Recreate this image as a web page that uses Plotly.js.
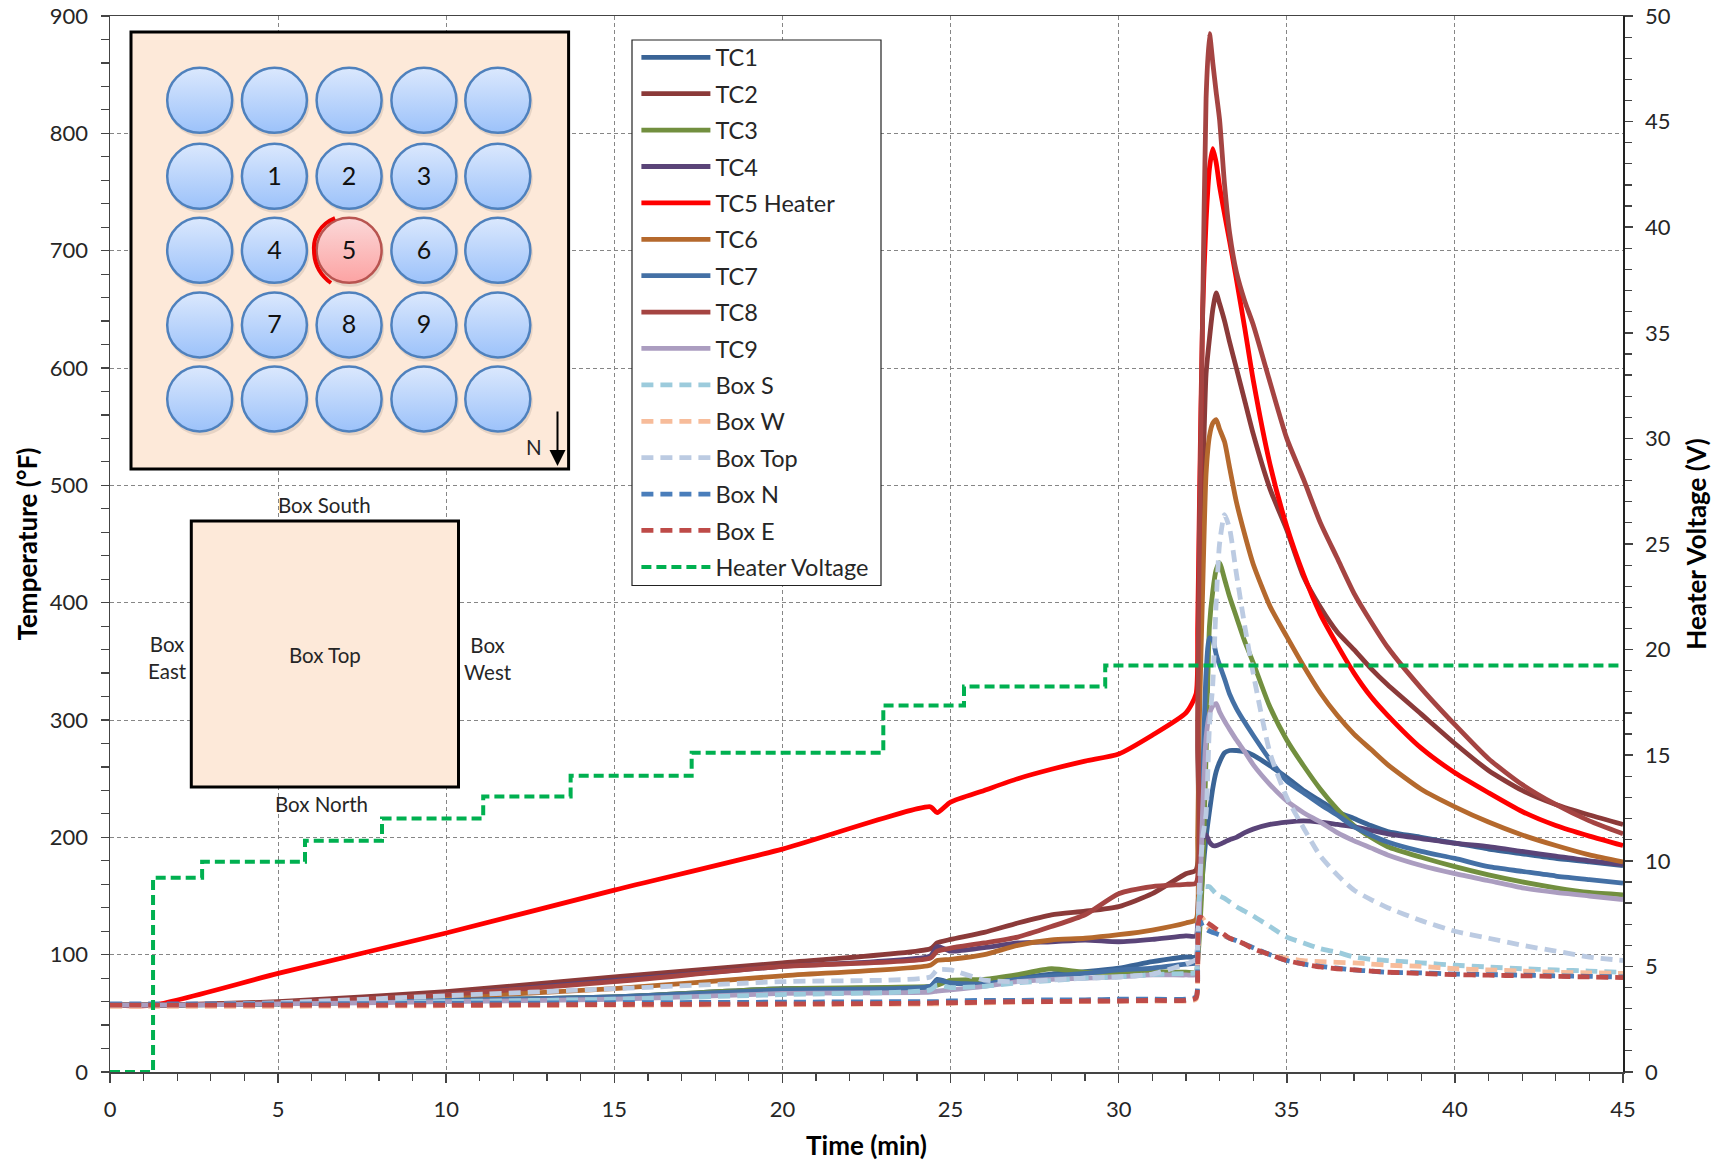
<!DOCTYPE html>
<html>
<head>
<meta charset="utf-8">
<script src="https://cdn.plot.ly/plotly-3.0.1.min.js"></script>
<style>html,body{margin:0;padding:0;background:#fff}#chart{width:1726px;height:1162px}</style>
</head>
<body>
<div id="chart"></div>
<script>
// Shared time base (min)
const time = [0,1.3,5,10,15,20, 24.4,24.6,25,26,27, 28,29,30,31,32, 32.3,32.35,32.4,32.5,32.6, 32.7,32.8,32.9,33,33.15, 33.3,33.5,33.75,34,34.5, 35,35.5,36,36.5,37, 37.5,38,39,40,41, 42,43,44,45];
// Temperatures (deg F)
const TC1 = [57,57,58,61,64,71, 73,79,76,75.5,80, 83.5,85.5,88.5,94,98, 98,110,130,170,200, 222,242,256,264,272, 274,274,273,270,261, 251,240,231,222,216, 210,205,200,195,190, 186,182,179,176];
const TC2 = [57,57,60,68.5,81,93, 105,110,113,119,127, 134,137,141,152,169, 172,280,400,500,595, 625,650,664,655,640, 622,600,572,544,497, 462,422,396,375,360, 344,330,305,280,257, 240,228,219,211];
const TC3 = [57,57,58,61,64,71, 73,74,78,79,83, 88,85,85,85.5,85, 85,95,115,170,270, 380,410,428,434,420, 405,388,367,349,311, 283,261,241,224,210, 200,192,183,175,168, 162,157,153,151];
const TC4 = [57,57,59,66,78,90, 99,107,103,106,110, 111,112.5,111,113,116, 116,135,165,200,202, 196,193,193,194,196, 198,200,204,207,211, 213,214,213,211,209, 206,203,199,195,192, 188,184,180,177];
const TC5 = [57,57,84,118.5,155,190, 226,221,230,240,250, 258,265,271,287,306, 322,380,480,650,725, 770,787,775,755,731, 708,676,634,590,518, 465,424,390,364,340, 320,304,276,255,238, 222,210,201,193];
const TC6 = [57,57,59,64,71,82, 91,95,96,100,108, 112.5,114,117,121,127, 130,200,300,413,510, 542,553,556,548,537, 515,486,458,433,397, 371,346,323,304,288, 275,262,241,226,213, 202,193,185,179];
const TC7 = [57,57,58,61,64,70, 73,78,76,75,79, 82,84,87,88.5,92, 93,105,140,250,340, 370,368,356,347,335, 322,310,298,287,266, 248,238,228,219,209, 202,196,188,182,175, 171,167,164,161];
const TC8 = [57,57,59,66,77,90, 97,103,105.6,110,115, 124,134,152,158,160, 161,300,460,650,830, 885,860,835,812,756, 715,682,657,637,588, 540,505,468,438,408, 384,362,327,296,267, 245,228,214,203];
const TC9 = [57,57,58,60,62,67, 68,69,70,73,77, 79,80,81,82.7,82.7, 83,100,135,225,285, 305,312,314,307,299, 292,283,273,262,245, 231,221,213,204,197, 191,185,176,169,163, 157,153,150,147];
const BoxS = [57,57,58,60,62,66, 70,74,72,73,76, 78,80,81,83,84, 85,110,150,158,158, 158,155,152,150,148, 145,141,137,133,124, 115,110,105,102,98, 96,95,93,91,89.5, 88,87,86,85];
const BoxW = [56,56,56,56.5,57,57.5, 58,58,58.5,59,59.5, 60,60,60.5,60.5,60.5, 62,90,125,131,126, 122,120,119,118,116, 114,112,109,106,100, 97,95,94,93.5,93, 92,91,90,88,87, 86,85,84.5,84];
const BoxTop = [57,57,59,65,71,77, 81,87,87,78.4,77, 78.4,80,81,83.5,92, 96,115,160,200,220, 295,331,400,450,475, 463,425,380,340,272, 234,208,184,168,155, 147,140,129,120,114, 108,103,98,95];
const BoxN = [58,58,58,58.5,59,59.5, 60,60,60.5,61,61, 61.5,61.5,62,62,62, 64,95,130,124,122, 120,119,118,117,116, 114,112,109,106,100, 95,92,90,88.5,87, 86,85,84.5,83.5,83, 82.5,82,81.5,81];
const BoxE = [57,57,57,57,57.5,58, 58.7,59,59,59.5,60, 60,60.5,60.5,61,61, 63,90,132,131,128, 126,124,122,120,117, 114,112,109,105,100, 95,92,89.5,88,87, 86,85,84,83,82.5, 82,81.5,81,80.5];
// Heater voltage steps (V)
const voltTime = [0,1.28,2.74,5.8,8.09,11.1,13.7,17.3,23.0,25.4,29.6,45];
const voltage = [0,9.2,9.95,10.95,12,13.05,14.03,15.12,17.35,18.25,19.25,19.25];

const W = 1726, H = 1162;
const FONT = 'Lato, "Open Sans", sans-serif';
const TXT = '#262626';

const solid = (name, y, color) => ({name, x: time, y, mode:'lines', legendgroup:name,
  line:{color, width:4.8, shape:'spline', smoothing:0.6}, hoverinfo:'skip'});
const dashed = (name, y, color) => ({name, x: time, y, mode:'lines', legendgroup:name,
  line:{color, width:4.8, shape:'spline', smoothing:0.6, dash:'12px,7px'}, hoverinfo:'skip'});

const traces = [
  solid('TC1', TC1, '#3a6496'),
  solid('TC2', TC2, '#8b3a39'),
  solid('TC3', TC3, '#728f3f'),
  solid('TC4', TC4, '#5a4478'),
  solid('TC5 Heater', TC5, '#ff0000'),
  solid('TC6', TC6, '#b5692d'),
  solid('TC7', TC7, '#4470a5'),
  solid('TC8', TC8, '#a54442'),
  solid('TC9', TC9, '#ab9dc0'),
  dashed('Box S', BoxS, '#9ccbdc'),
  dashed('Box W', BoxW, '#f7bc9a'),
  dashed('Box Top', BoxTop, '#bccbe2'),
  dashed('Box N', BoxN, '#4a7ebb'),
  dashed('Box E', BoxE, '#be4b48'),
  {name:'Heater Voltage', x:voltTime, y:voltage, yaxis:'y2', mode:'lines', legendgroup:'Heater Voltage',
   line:{color:'#00b050', width:4, shape:'hv', dash:'10px,5px'}, hoverinfo:'skip'}
];

// Inset diagram: a pixel-coordinate overlay subplot (x3/y3)
const pinCols = [199.7,274.4,349.1,423.9,497.8];
const pinRows = [100.3,176.3,250.3,325,399];
const pinX = [], pinY = [], pinLabelX = [], pinLabelY = [], pinLabel = [];
let n = 0;
pinRows.forEach((ry, r) => pinCols.forEach((cx, c) => {
  if (r === 2 && c === 2) { n++; pinLabelX.push(cx); pinLabelY.push(ry+2); pinLabel.push(String(n)); return; }
  pinX.push(cx); pinY.push(ry);
  if (r >= 1 && r <= 3 && c >= 1 && c <= 3) { n++; pinLabelX.push(cx); pinLabelY.push(ry+2); pinLabel.push(String(n)); }
}));
const overlay = {xaxis:'x3', yaxis:'y3', showlegend:false, hoverinfo:'skip'};
traces.push(Object.assign({x:pinX.concat([pinCols[2]]).map(v=>v+1.5), y:pinY.concat([pinRows[2]]).map(v=>v+3), mode:'markers',
  marker:{size:67, color:'rgba(90,80,70,0.14)', line:{width:0}}}, overlay));
traces.push(Object.assign({x:pinX, y:pinY, mode:'markers',
  marker:{size:65, color:'#dbe8fd', gradient:{type:'vertical', color:'#9cc2fa'}, line:{color:'#4f81bd', width:2.5}}}, overlay));
traces.push(Object.assign({x:[pinCols[2]], y:[pinRows[2]], mode:'markers',
  marker:{size:65, color:'#fbd8d8', gradient:{type:'vertical', color:'#fca3a3'}, line:{color:'#b85450', width:2.5}}}, overlay));
traces.push(Object.assign({x:pinLabelX, y:pinLabelY, text:pinLabel, mode:'text', textposition:'middle center',
  textfont:{family:FONT, size:25, color:'#111'}}, overlay));

const rectStyle = {type:'rect', xref:'x3', yref:'y3', layer:'below', fillcolor:'#fde9d9', line:{color:'#000', width:3}};
const shapes = [
  Object.assign({x0:131, x1:568.6, y0:32, y1:469}, rectStyle),
  Object.assign({x0:191.3, x1:458.5, y0:521, y1:787}, rectStyle),
  {type:'rect', xref:'x3', yref:'y3', layer:'below', fillcolor:'#fff', line:{color:'#222', width:1.2},
   x0:632, x1:881, y0:40, y1:585.5},
  {type:'path', xref:'x3', yref:'y3', layer:'above', line:{color:'#f00000', width:4},
   path:'M335,218 C320,224 313,238 314,250 C314,263 320,275 331,283'}
];
const note = (text, x, y) => ({text, x, y, xref:'x3', yref:'y3', showarrow:false, xanchor:'center', yanchor:'middle',
  font:{family:FONT, size:20.5, color:TXT}, align:'center'});
const annotations = [
  note('Box South', 324.5, 505),
  note('Box North', 321.5, 804.4),
  note('Box Top', 324.5, 654.8),
  note('Box<br>East', 167.6, 657),
  note('Box<br>West', 488.3, 658),
  note('N', 534, 447),
  {x:557.5, y:466, ax:557.5, ay:410, xref:'x3', yref:'y3', axref:'x3', ayref:'y3', text:'', showarrow:true,
   arrowhead:2, arrowsize:1.6, arrowwidth:2, arrowcolor:'#000'}
];

const tickFont = {family:FONT, size:22, color:TXT};
const titleFont = {family:FONT, size:26, color:'#000', weight:'bold'};
const axisLine = '#444';
const gridDash = '4px,3px';

const layout = {
  width:W, height:H, margin:{l:0,r:0,t:0,b:0}, paper_bgcolor:'#fff', plot_bgcolor:'rgba(0,0,0,0)',
  font:{family:FONT, color:TXT},
  xaxis:{domain:[110/W,1623/W], range:[0,45], anchor:'y', dtick:5, tick0:0,
    showline:true, mirror:true, linecolor:axisLine, linewidth:1.5,
    ticks:'outside', ticklen:9, tickcolor:axisLine, tickwidth:1.5, tickfont:tickFont, ticklabelstandoff:8,
    minor:{dtick:1, ticks:'outside', ticklen:7, tickcolor:axisLine, tickwidth:1.2, showgrid:false},
    showgrid:true, gridcolor:'#868686', griddash:gridDash, gridwidth:1, zeroline:false,
    title:{text:'Time (min)', font:titleFont, standoff:16}},
  yaxis:{domain:[1-1072/H,1-16/H], range:[0,900], anchor:'x', dtick:100, tick0:0,
    showline:true, linecolor:axisLine, linewidth:1.5,
    ticks:'outside', ticklen:8, tickcolor:axisLine, tickwidth:1.5, tickfont:tickFont, ticklabelstandoff:8,
    minor:{dtick:20, ticks:'outside', ticklen:8, tickcolor:axisLine, tickwidth:1.2, showgrid:false},
    showgrid:true, gridcolor:'#868686', griddash:gridDash, gridwidth:1, zeroline:false,
    title:{text:'Temperature (°F)', font:titleFont, standoff:4}},
  yaxis2:{domain:[1-1072/H,1-16/H], range:[0,50], overlaying:'y', side:'right', anchor:'x', dtick:5, tick0:0,
    showline:true, linecolor:'#222', linewidth:1.5,
    ticks:'outside', ticklen:8, tickcolor:axisLine, tickwidth:1.5, tickfont:tickFont, ticklabelstandoff:8,
    minor:{dtick:1, ticks:'outside', ticklen:7, tickcolor:axisLine, tickwidth:1.2, showgrid:false},
    showgrid:false, zeroline:false,
    title:{text:'Heater Voltage (V)', font:titleFont, standoff:18}},
  xaxis3:{domain:[0,1], range:[0,W], anchor:'y3', visible:false, fixedrange:true},
  yaxis3:{domain:[0,1], range:[H,0], anchor:'x3', visible:false, fixedrange:true},
  legend:{x:636.4/W, y:1-35.5/H, xanchor:'left', yanchor:'top', bgcolor:'rgba(0,0,0,0)', borderwidth:0,
    font:{family:FONT, size:23.5, color:TXT}, itemwidth:69, tracegroupgap:2.85, traceorder:'grouped', itemclick:false, itemdoubleclick:false},
  shapes, annotations, showlegend:true
};
Plotly.newPlot('chart', traces, layout, {displayModeBar:false, staticPlot:true});
</script>
</body>
</html>
